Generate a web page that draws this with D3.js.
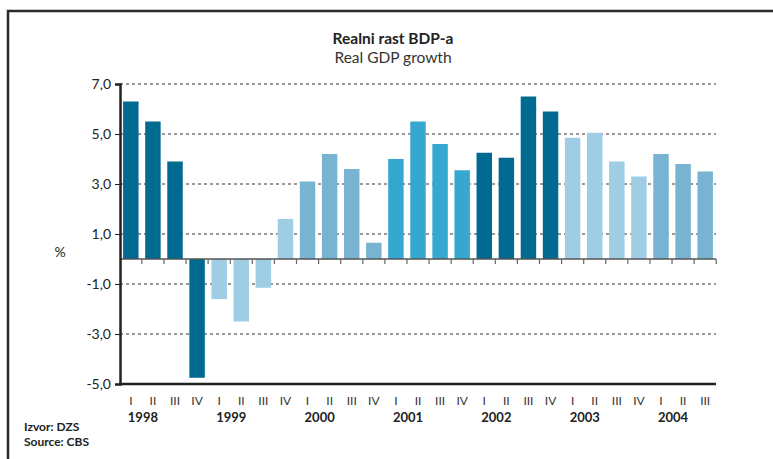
<!DOCTYPE html>
<html lang="hr">
<head>
<meta charset="UTF-8">
<title>Realni rast BDP-a</title>
<style>
body{margin:0;background:#fff}
text{font-family:Lato,"Open Sans",sans-serif;fill:#222}
</style>
</head>
<body>
<svg width="773" height="459"></svg>
<script src="https://cdn.jsdelivr.net/npm/d3@7"></script>
<script>
var width=773,height=459,margin={top:84,right:57,bottom:75,left:120}

// quarters 1998 I .. 2004 III
var years=['1998','1999','2000','2001','2002','2003','2004']
var quarters=['I','II','III','IV']
var growth=[6.3,5.5,3.9,-4.75, -1.6,-2.5,-1.15,1.6, 3.1,4.2,3.6,0.65, 4.0,5.5,4.6,3.55,
            4.25,4.05,6.5,5.9, 4.85,5.05,3.9,3.3, 4.2,3.8,3.5]
var yTicks=[7,5,3,1,-1,-3,-5]
var yearColors=['#006a91','#9ecde4','#78b4d1','#36a8d0','#006a91','#9ecde4','#78b4d1']

var data=growth.map(function(v,i){
  return {key:i,year:years[Math.floor(i/4)],q:quarters[i%4],yi:Math.floor(i/4),value:v}
})

var svg=d3.select('svg')

// frame
svg.append('path').attr('d','M8,459V11H773').attr('fill','none').attr('stroke','#2a2a2a').attr('stroke-width',2.5)

var x=d3.scaleBand().domain(data.map(d=>d.key)).range([margin.left,716]).paddingInner(0.3).paddingOuter(0.14)
var y=d3.scaleLinear().domain([-5,7]).range([384,84])

// title
svg.append('text').attr('x',393).attr('y',44).attr('text-anchor','middle')
  .style('font-size','15.5px').style('font-weight','bold').text('Realni rast BDP-a')
svg.append('text').attr('x',393).attr('y',63).attr('text-anchor','middle')
  .style('font-size','15.5px').style('fill','#333').text('Real GDP growth')

// gridlines
svg.append('g').selectAll('line').data(yTicks.filter(t=>t>-5)).join('line')
  .attr('x1',margin.left).attr('x2',716).attr('y1',d=>y(d)).attr('y2',d=>y(d))
  .attr('stroke','#333').attr('stroke-width',1).attr('stroke-dasharray','3,3')

// bars
svg.append('g').selectAll('rect').data(data).join('rect')
  .attr('x',d=>x(d.key)).attr('width',x.bandwidth())
  .attr('y',d=>y(Math.max(0,d.value))).attr('height',d=>Math.abs(y(d.value)-y(0)))
  .attr('fill',d=>yearColors[d.yi])

// zero line with ticks
var zero=svg.append('g')
zero.append('line').attr('x1',margin.left).attr('x2',716).attr('y1',y(0)).attr('y2',y(0))
  .attr('stroke','#555').attr('stroke-width',1.5)
zero.selectAll('.zt').data(data).join('line').attr('class','zt')
  .attr('x1',d=>x(d.key)+x.bandwidth()+x.step()*0.15).attr('x2',d=>x(d.key)+x.bandwidth()+x.step()*0.15)
  .attr('y1',y(0)).attr('y2',y(0)+5).attr('stroke','#666').attr('stroke-width',1.2)

// y axis
var yAxis=g=>g.attr('transform',`translate(${margin.left},0)`)
  .call(d3.axisLeft(y).tickValues(yTicks).tickSize(5).tickFormat(d=>d.toFixed(1).replace('.',',')))
  .call(g=>g.select('.domain').attr('stroke','#222').attr('stroke-width',2.5))
  .call(g=>g.selectAll('.tick line').attr('stroke','#222'))
  .call(g=>g.selectAll('.tick text').attr('x',-9).style('font-size','14px').style('font-family','Lato,sans-serif').attr('fill','#222'))
svg.append('g').call(yAxis)

svg.append('text').attr('x',60).attr('y',257).attr('text-anchor','middle').style('font-size','14px').text('%')

// bottom axis
svg.append('line').attr('x1',margin.left-1).attr('x2',716).attr('y1',384).attr('y2',384)
  .attr('stroke','#222').attr('stroke-width',2.5)

// x labels
svg.append('g').selectAll('text').data(data).join('text')
  .attr('x',d=>x(d.key)+x.bandwidth()/2).attr('y',405).attr('text-anchor','middle')
  .style('font-size','12px').style('fill','#333').text(d=>d.q)
svg.append('g').selectAll('text').data(years).join('text')
  .attr('x',(d,i)=>x(i*4)+x.bandwidth()/2-3).attr('y',422)
  .style('font-size','13px').style('font-weight','bold').text(d=>d)

// source
svg.append('text').attr('x',24).attr('y',431).style('font-size','12px').style('font-weight','bold').text('Izvor: DZS')
svg.append('text').attr('x',24).attr('y',446).style('font-size','12px').style('font-weight','bold').text('Source: CBS')
</script>
</body>
</html>
